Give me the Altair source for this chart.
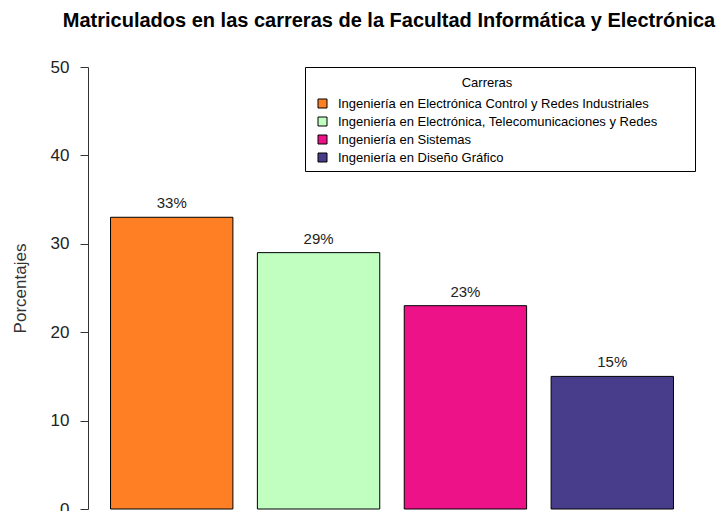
import altair as alt
import pandas as pd

carreras = [
    "Ingeniería en Electrónica Control y Redes Industriales",
    "Ingeniería en Electrónica, Telecomunicaciones y Redes",
    "Ingeniería en Sistemas",
    "Ingeniería en Diseño Gráfico",
]
porcentajes = [33, 29, 23, 15]
colores = ["#FF7F24", "#C1FFC1", "#EE1289", "#483D8B"]
ticks_y = [0, 10, 20, 30, 40, 50]

FONT = "Liberation Sans"

df = pd.DataFrame({
    "carrera": carreras,
    "pct": porcentajes,
    "etiqueta": [f"{v}%" for v in porcentajes],
})

xenc = alt.X("carrera:N", sort=None, axis=None,
             scale=alt.Scale(paddingInner=0.2 / 1.2, paddingOuter=0.184 / 1.2))
yenc = alt.Y("pct:Q", scale=alt.Scale(domain=[0, 50], nice=False, zero=True),
             axis=alt.Axis(values=ticks_y, title="Porcentajes", grid=False,
                           tickSize=8, labelPadding=11, labelFontSize=17,
                           labelFont=FONT, labelColor="#222",
                           titleFont=FONT, titleFontSize=17, titleFontWeight="normal",
                           titleColor="#333", titlePadding=21,
                           domainColor="#333", tickColor="#333"))

box = alt.Chart(pd.DataFrame({"k": [0]})).mark_rect(
    fill="white", stroke="black", strokeWidth=1
).encode(x=alt.value(217.5), x2=alt.value(607.5), y=alt.value(0.5), y2=alt.value(104.5))

bars = alt.Chart(df).mark_bar(stroke="black", strokeWidth=1).encode(
    x=xenc,
    y=yenc,
    fill=alt.Fill("carrera:N", sort=None,
                  scale=alt.Scale(domain=carreras, range=colores),
                  legend=alt.Legend(orient="none", legendX=228, legendY=10,
                                    title="Carreras", titleFont=FONT, titleFontSize=13,
                                    titleFontWeight="normal", titleColor="black",
                                    titleAnchor="middle", titlePadding=7,
                                    labelFont=FONT, labelFontSize=13, labelColor="black",
                                    labelLimit=500, symbolType="square", symbolSize=81,
                                    symbolStrokeColor="black", symbolStrokeWidth=1,
                                    labelOffset=9, rowPadding=4, padding=0)),
)

labels = alt.Chart(df).mark_text(dy=-9, baseline="alphabetic", fontSize=15,
                                  font=FONT, color="#222").encode(
    x=xenc,
    y=alt.Y("pct:Q"),
    text="etiqueta:N",
)

chart = alt.layer(box, bars, labels).properties(
    width=608,
    height=442,
    title=alt.Title("Matriculados en las carreras de la Facultad Informática y Electrónica",
                    font=FONT, fontSize=20, fontWeight="bold", color="black",
                    anchor="middle", frame="group", offset=27, dx=-3),
    autosize=alt.AutoSizeParams(type="none"),
    padding={"left": 80, "top": 59, "right": 20, "bottom": 4},
).configure(background="white").configure_view(stroke=None)

chart.save("out.html", embed_options={"renderer": "svg", "actions": False})
